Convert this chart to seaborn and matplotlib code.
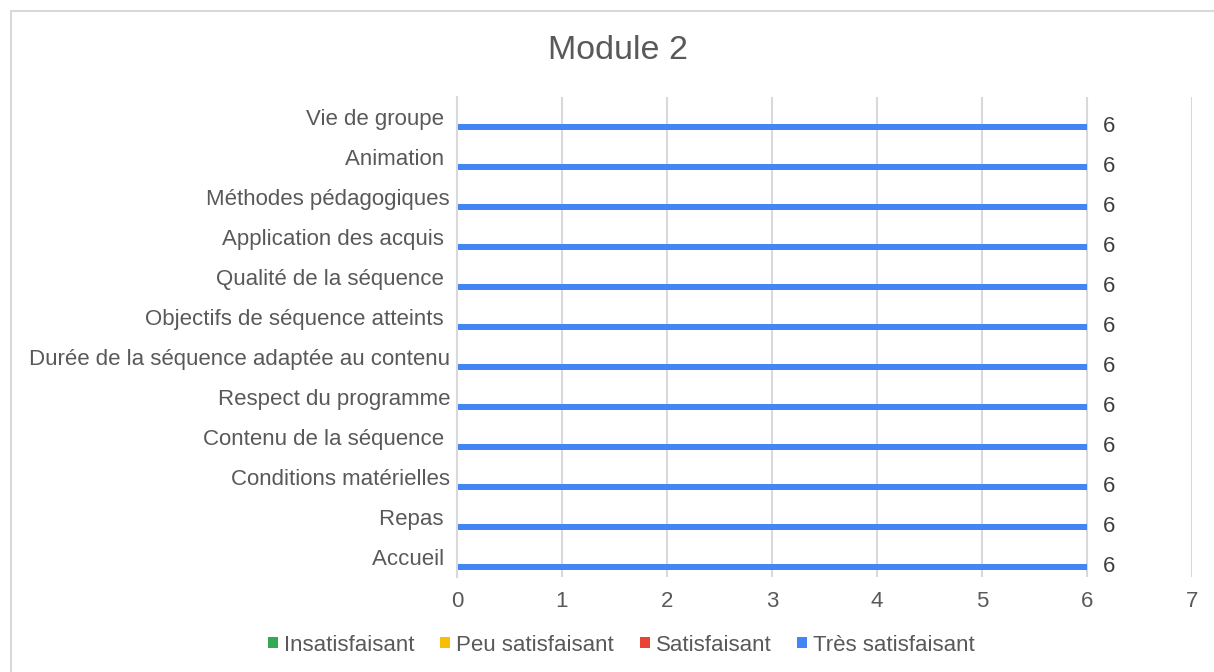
import matplotlib
matplotlib.use("Agg")
import matplotlib.pyplot as plt
import seaborn as sns
import pandas as pd
from matplotlib.lines import Line2D
from matplotlib.patches import Patch

categories = ["Vie de groupe ", "Animation ", "Méthodes pédagogiques", "Application des acquis ",
              "Qualité de la séquence ", "Objectifs de séquence atteints ",
              "Durée de la séquence adaptée au contenu", "Respect du programme",
              "Contenu de la séquence ", "Conditions matérielles", "Repas ", "Accueil "]
series = ["Insatisfaisant", "Peu satisfaisant", "Satisfaisant", "Très satisfaisant"]
insatisfaisant = [0] * 12
peu_satisfaisant = [0] * 12
satisfaisant = [0] * 12
tres_satisfaisant = [6, 6, 6, 6, 6, 6, 6, 6, 6, 6, 6, 6]
colors = ["#34A853", "#FBBC04", "#EA4335", "#4285F4"]
title = "Module 2"

rows = []
for s, vals in zip(series, [insatisfaisant, peu_satisfaisant, satisfaisant, tres_satisfaisant]):
    for c, v in zip(categories, vals):
        rows.append({"cat": c, "serie": s, "val": v})
df = pd.DataFrame(rows)

sns.set_theme(style="white")
plt.rcParams["font.family"] = ["Liberation Sans", "DejaVu Sans"]
grey = "#595959"

fig = plt.figure(figsize=(12.14, 6.72), dpi=100)
ax = fig.add_axes([0.3764, 0.1414, 0.982 - 0.3764, 0.8557 - 0.1414])

sns.barplot(data=df, y="cat", x="val", hue="serie", order=categories, hue_order=series,
            palette=colors, saturation=1, orient="h", width=0.66, linewidth=0, ax=ax, legend=False)

ax.set_xlim(0, 7)
ax.set_xticks(range(8))
ax.grid(axis="x", color="#D9D9D9", linewidth=1.5)
ax.set_axisbelow(True)
for s in ["top", "right", "bottom"]:
    ax.spines[s].set_visible(False)
ax.spines["left"].set_color("#D9D9D9")
ax.spines["left"].set_linewidth(1.5)
ax.set_xlabel("")
ax.set_ylabel("")
ax.tick_params(axis="x", length=0, pad=10, labelsize=16, labelcolor=grey)
ax.tick_params(axis="y", length=0, pad=5, labelsize=16, labelcolor=grey)

# data labels for the last series
last = ax.containers[-1]
ax.bar_label(last, labels=[str(v) for v in tres_satisfaisant], padding=11, fontsize=16, color="#404040")

fig.text(0.509, 0.925, title, ha="center", va="center", fontsize=24.5, color=grey)

handles = [Patch(facecolor=c, edgecolor="none") for c in colors]
leg = fig.legend(handles, series, loc="center", bbox_to_anchor=(0.512, 0.04), ncol=4,
                 frameon=False, fontsize=16, handlelength=0.45, handleheight=0.36,
                 handletextpad=0.27, columnspacing=1.15)
for t in leg.get_texts():
    t.set_color(grey)

# outer frame
fig.add_artist(Line2D([10.5 / 1214, 10.5 / 1214], [0, 1 - 10.5 / 672], color="#D9D9D9", lw=1.5,
                      transform=fig.transFigure))
fig.add_artist(Line2D([10.5 / 1214, 1], [1 - 10.5 / 672, 1 - 10.5 / 672], color="#D9D9D9", lw=1.5,
                      transform=fig.transFigure))

fig.savefig("out.png", dpi=100)
